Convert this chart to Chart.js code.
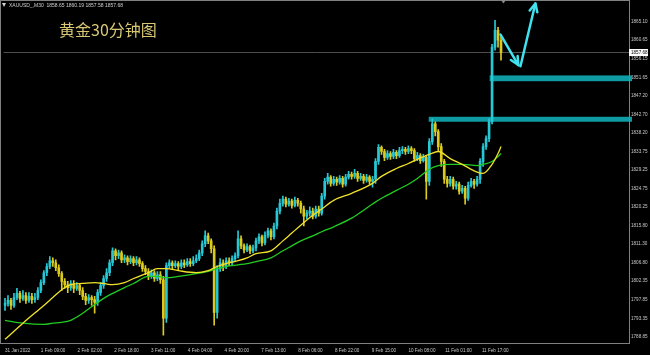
<!DOCTYPE html>
<html>
<head>
<meta charset="utf-8">
<script src="https://cdn.jsdelivr.net/npm/chart.js@4.4.1/dist/chart.umd.min.js"></script>
<style>
  html, body { margin: 0; padding: 0; background: #000; }
</style>
</head>
<body>
<canvas id="chart" width="650" height="355"></canvas>
<script>
// XAUUSD 30 min candles (one candle ~ every 3px)
const opens = [
  1796.5, 1797.0, 1797.7, 1796.5, 1798.4, 1799.4, 1798.2, 1798.9, 1797.7, 1798.7,
  1797.9, 1798.4, 1800.1, 1802.0, 1804.4, 1805.9, 1807.3, 1806.8, 1805.6, 1804.2,
  1802.3, 1801.5, 1800.8, 1801.8, 1800.6, 1801.3, 1800.1, 1798.7, 1797.7, 1798.4,
  1797.9, 1797.2, 1799.6, 1801.3, 1803.0, 1804.4, 1806.8, 1809.7, 1808.5, 1809.2,
  1807.5, 1808.0, 1807.1, 1807.8, 1806.8, 1807.5, 1806.6, 1805.4, 1804.7, 1803.7,
  1804.4, 1803.0, 1803.9, 1802.7, 1793.4, 1806.1, 1806.8, 1806.1, 1806.6, 1805.9,
  1806.8, 1806.3, 1807.1, 1806.6, 1807.3, 1807.8, 1809.2, 1811.4, 1813.3, 1812.1,
  1810.2, 1794.8, 1805.4, 1806.8, 1805.9, 1807.3, 1806.8, 1807.8, 1808.5, 1812.6,
  1810.9, 1809.9, 1810.7, 1809.7, 1810.4, 1812.1, 1813.1, 1811.6, 1813.5, 1814.5,
  1813.1, 1815.7, 1819.3, 1821.2, 1822.2, 1821.0, 1821.7, 1820.7, 1821.9, 1821.2,
  1819.8, 1818.1, 1818.8, 1819.3, 1818.1, 1819.8, 1818.8, 1822.9, 1826.5, 1827.5,
  1826.0, 1827.0, 1826.3, 1827.2, 1825.8, 1827.5, 1828.2, 1827.7, 1828.4, 1827.2,
  1827.7, 1826.7, 1827.5, 1826.5, 1827.0, 1831.3, 1834.7, 1833.7, 1832.3, 1833.2,
  1832.5, 1833.5, 1832.7, 1833.9, 1834.2, 1833.7, 1834.4, 1833.9, 1832.0, 1832.7,
  1831.5, 1832.3, 1826.5, 1836.1, 1840.4, 1838.5, 1834.9, 1831.3, 1827.0, 1826.0,
  1827.0, 1825.3, 1825.8, 1824.1, 1824.8, 1822.4, 1825.5, 1826.5, 1825.8, 1827.0,
  1831.3, 1834.9, 1836.8, 1840.9, 1858.9, 1863.0, 1860.6
]
const highs = [
  1798.2, 1798.9, 1798.2, 1799.4, 1800.6, 1799.9, 1800.1, 1799.6, 1799.6, 1799.4,
  1799.4, 1800.8, 1802.7, 1804.9, 1806.6, 1808.3, 1808.0, 1807.5, 1806.3, 1804.7,
  1803.0, 1802.3, 1802.5, 1802.5, 1802.0, 1801.8, 1800.8, 1799.4, 1799.1, 1798.9,
  1798.7, 1800.3, 1802.0, 1803.7, 1805.4, 1807.5, 1810.4, 1810.2, 1809.9, 1809.7,
  1808.7, 1808.5, 1808.5, 1808.3, 1808.3, 1808.0, 1807.1, 1806.1, 1805.4, 1805.1,
  1804.9, 1804.7, 1804.7, 1803.5, 1806.8, 1807.5, 1807.3, 1807.3, 1807.1, 1807.5,
  1807.5, 1807.8, 1807.8, 1808.3, 1808.7, 1809.9, 1812.1, 1814.5, 1814.0, 1812.6,
  1810.9, 1806.1, 1807.8, 1807.5, 1808.0, 1808.0, 1808.5, 1809.2, 1814.5, 1813.3,
  1811.4, 1811.4, 1811.1, 1811.1, 1812.8, 1813.8, 1813.5, 1814.3, 1815.2, 1815.0,
  1816.4, 1820.0, 1822.2, 1822.9, 1822.7, 1822.4, 1822.2, 1822.7, 1822.4, 1821.7,
  1820.5, 1819.5, 1820.3, 1820.0, 1820.5, 1820.5, 1823.6, 1827.2, 1828.4, 1827.9,
  1827.7, 1827.5, 1827.9, 1827.7, 1828.2, 1828.9, 1828.7, 1829.4, 1828.9, 1828.4,
  1828.2, 1828.2, 1827.9, 1827.7, 1832.0, 1835.4, 1835.1, 1834.2, 1833.9, 1833.7,
  1834.2, 1833.9, 1834.7, 1834.9, 1834.7, 1835.1, 1834.9, 1834.4, 1833.5, 1833.2,
  1833.0, 1832.7, 1836.8, 1841.6, 1840.9, 1839.0, 1835.6, 1831.8, 1827.7, 1827.7,
  1827.5, 1826.5, 1826.3, 1825.5, 1825.3, 1826.3, 1827.2, 1827.0, 1827.7, 1832.0,
  1835.6, 1837.5, 1841.6, 1859.6, 1865.4, 1863.7, 1861.8
]
const lows = [
  1795.3, 1796.3, 1795.5, 1796.0, 1797.9, 1797.2, 1797.7, 1797.0, 1797.2, 1797.0,
  1797.2, 1797.9, 1799.6, 1801.5, 1803.7, 1805.4, 1805.9, 1804.9, 1803.5, 1800.1,
  1800.6, 1799.6, 1800.1, 1799.6, 1800.1, 1799.1, 1797.9, 1796.7, 1797.0, 1796.5,
  1794.6, 1796.5, 1798.9, 1800.6, 1802.3, 1803.7, 1806.1, 1807.5, 1807.8, 1806.8,
  1806.8, 1806.3, 1806.6, 1806.1, 1806.3, 1805.9, 1804.7, 1803.9, 1802.7, 1803.0,
  1802.3, 1802.5, 1801.8, 1789.3, 1792.4, 1805.4, 1805.4, 1805.6, 1805.1, 1805.4,
  1805.6, 1805.9, 1805.9, 1806.1, 1806.8, 1807.3, 1808.5, 1810.7, 1811.4, 1809.2,
  1791.7, 1793.4, 1804.7, 1804.9, 1805.4, 1806.1, 1806.3, 1807.1, 1808.0, 1810.2,
  1809.2, 1809.5, 1809.0, 1809.2, 1809.7, 1811.4, 1810.9, 1811.1, 1812.8, 1812.3,
  1812.6, 1815.0, 1818.6, 1820.5, 1820.3, 1820.5, 1820.0, 1820.3, 1820.5, 1818.8,
  1815.7, 1817.4, 1818.1, 1817.4, 1817.6, 1818.1, 1818.3, 1822.2, 1825.8, 1825.3,
  1825.5, 1825.5, 1825.8, 1825.1, 1825.3, 1827.0, 1827.0, 1827.2, 1826.5, 1826.7,
  1826.0, 1826.3, 1825.8, 1825.1, 1826.0, 1830.6, 1833.0, 1831.5, 1831.8, 1831.8,
  1832.0, 1832.0, 1832.3, 1833.2, 1833.0, 1833.2, 1833.2, 1831.3, 1831.5, 1830.8,
  1831.1, 1822.2, 1825.5, 1835.4, 1837.5, 1833.7, 1830.1, 1826.0, 1825.1, 1825.3,
  1824.6, 1824.6, 1823.4, 1823.6, 1821.0, 1821.9, 1825.1, 1824.8, 1825.3, 1826.0,
  1830.1, 1834.2, 1836.1, 1840.4, 1858.2, 1858.9, 1855.8
]
const closes = [
  1797.0, 1797.7, 1796.5, 1798.4, 1799.4, 1798.2, 1798.9, 1797.7, 1798.7, 1797.9,
  1798.4, 1800.1, 1802.0, 1804.4, 1805.9, 1807.3, 1806.8, 1805.6, 1804.2, 1802.3,
  1801.5, 1800.8, 1801.8, 1800.6, 1801.3, 1800.1, 1798.7, 1797.7, 1798.4, 1797.9,
  1797.2, 1799.6, 1801.3, 1803.0, 1804.4, 1806.8, 1809.7, 1808.5, 1809.2, 1807.5,
  1808.0, 1807.1, 1807.8, 1806.8, 1807.5, 1806.6, 1805.4, 1804.7, 1803.7, 1804.4,
  1803.0, 1803.9, 1802.7, 1793.4, 1806.1, 1806.8, 1806.1, 1806.6, 1805.9, 1806.8,
  1806.3, 1807.1, 1806.6, 1807.3, 1807.8, 1809.2, 1811.4, 1813.3, 1812.1, 1810.2,
  1794.8, 1805.4, 1806.8, 1805.9, 1807.3, 1806.8, 1807.8, 1808.5, 1812.6, 1810.9,
  1809.9, 1810.7, 1809.7, 1810.4, 1812.1, 1813.1, 1811.6, 1813.5, 1814.5, 1813.1,
  1815.7, 1819.3, 1821.2, 1822.2, 1821.0, 1821.7, 1820.7, 1821.9, 1821.2, 1819.8,
  1818.1, 1818.8, 1819.3, 1818.1, 1819.8, 1818.8, 1822.9, 1826.5, 1827.5, 1826.0,
  1827.0, 1826.3, 1827.2, 1825.8, 1827.5, 1828.2, 1827.7, 1828.4, 1827.2, 1827.7,
  1826.7, 1827.5, 1826.5, 1827.0, 1831.3, 1834.7, 1833.7, 1832.3, 1833.2, 1832.5,
  1833.5, 1832.7, 1833.9, 1834.2, 1833.7, 1834.4, 1833.9, 1832.0, 1832.7, 1831.5,
  1832.3, 1826.5, 1836.1, 1840.4, 1838.5, 1834.9, 1831.3, 1827.0, 1826.0, 1827.0,
  1825.3, 1825.8, 1824.1, 1824.8, 1822.4, 1825.5, 1826.5, 1825.8, 1827.0, 1831.3,
  1834.9, 1836.8, 1840.9, 1858.9, 1863.0, 1860.6, 1857.68
]

// moving averages, sampled at these candle positions
const maIndex = [0, 6, 13, 16, 19, 22, 26, 30, 33, 36, 40, 43, 48, 51, 54, 58, 64, 68, 71, 74,
  78, 81, 84, 89, 93, 96, 99, 103, 106, 110, 116, 123, 126, 131, 135, 138, 142, 145, 149, 153,
  158, 160, 163, 165, 166]
const maFast = [1788.3, 1792.2, 1796.5, 1798.4, 1800.3, 1801.5, 1801.8, 1802.0, 1801.8, 1801.5,
  1802.0, 1803.0, 1804.4, 1805.4, 1805.4, 1804.9, 1804.4, 1804.9, 1805.9, 1806.6,
  1807.3, 1808.0, 1809.0, 1809.7, 1812.1, 1814.0, 1815.9, 1818.3, 1819.8, 1821.9,
  1823.6, 1826.0, 1827.7, 1829.6, 1830.8, 1831.8, 1833.0, 1833.7, 1832.0, 1830.6,
  1828.7, 1828.4, 1830.6, 1833.2, 1834.9]
const maSlow = [1792.9, 1792.2, 1791.9, 1792.2, 1792.4, 1792.9, 1794.6, 1796.7, 1798.2, 1799.4,
  1800.8, 1801.8, 1803.5, 1803.5, 1803.2, 1803.5, 1804.2, 1804.7, 1805.4, 1805.9,
  1806.3, 1806.6, 1807.1, 1808.0, 1809.7, 1810.9, 1812.1, 1813.3, 1814.3, 1815.5,
  1817.6, 1821.0, 1822.4, 1824.3, 1825.8, 1827.2, 1829.4, 1830.3, 1830.6, 1830.6,
  1830.3, 1830.6, 1831.3, 1832.5, 1833.2]

const xTickIndex = [0, 12, 24.3, 36.6, 48.9, 61.2, 73.5, 85.8, 98.1, 110.4, 122.7, 135, 147.3, 159.6]
const xTickLabels = ['31 Jan 2022', '1 Feb 09:00', '2 Feb 02:00', '2 Feb 18:00', '3 Feb 11:00',
  '4 Feb 04:00', '4 Feb 20:00', '7 Feb 13:00', '8 Feb 06:00', '8 Feb 22:00', '9 Feb 15:00',
  '10 Feb 08:00', '11 Feb 01:00', '11 Feb 17:00']
const yTickValues = [1865.10, 1860.65, 1856.15, 1851.65, 1847.20, 1842.70, 1838.20, 1833.75, 1829.25,
  1824.75, 1820.25, 1815.80, 1811.30, 1806.80, 1802.35, 1797.85, 1793.35, 1788.85]

const symbolInfo = 'XAUUSD_,M30  1858.65 1860.19 1857.58 1857.68'
const chartTitle = '黄金30分钟图'

// support zones: [start candle, upper price, lower price]
const zones = [[141.8, 1842.1, 1840.9], [162.2, 1852.1, 1850.7]]
// drawn arrows: [[candle, price], [candle, price]]
const arrows = [
  [[165.8, 1862.0], [171.8, 1854.6]],
  [[172.5, 1854.3], [177.5, 1869.5]],
]

const BULL = '#27c8d6'
const BEAR = '#dccb1e'
const AXIS_FONT = '"Liberation Sans", Arial, sans-serif'

const candleColors = closes.map((c, i) => (c >= opens[i] ? BULL : BEAR))
const idx = closes.map((_, i) => i)

const overlay = {
  id: 'overlay',
  beforeDatasetsDraw(chart) {
    const { ctx, chartArea: a, scales: { x, y } } = chart
    ctx.save()
    const by = Math.round(y.getPixelForValue(closes[closes.length - 1])) + 0.5
    ctx.strokeStyle = '#4d4d4d'
    ctx.lineWidth = 1
    ctx.beginPath()
    ctx.moveTo(a.left, by)
    ctx.lineTo(a.right, by)
    ctx.stroke()

    ctx.fillStyle = '#0e9ba3'
    zones.forEach(([from, top, bottom]) => {
      const x0 = x.getPixelForValue(from)
      const y0 = y.getPixelForValue(top)
      const y1 = y.getPixelForValue(bottom)
      ctx.fillRect(x0, y0, a.right + 3 - x0, y1 - y0)
    })
    ctx.restore()
  },
  afterDatasetsDraw(chart) {
    const { ctx, scales: { x, y } } = chart
    ctx.save()
    ctx.strokeStyle = '#40e2ee'
    ctx.lineWidth = 2.5
    ctx.lineCap = 'round'
    ctx.lineJoin = 'round'
    arrows.forEach(([[x1, y1], [x2, y2]]) => {
      const px1 = x.getPixelForValue(x1), py1 = y.getPixelForValue(y1)
      const px2 = x.getPixelForValue(x2), py2 = y.getPixelForValue(y2)
      ctx.beginPath()
      ctx.moveTo(px1, py1)
      ctx.lineTo(px2, py2)
      ctx.stroke()
      const ang = Math.atan2(py2 - py1, px2 - px1)
      const h = 9
      ctx.beginPath()
      ctx.moveTo(px2 - h * Math.cos(ang - 0.45), py2 - h * Math.sin(ang - 0.45))
      ctx.lineTo(px2, py2)
      ctx.lineTo(px2 - h * Math.cos(ang + 0.45), py2 - h * Math.sin(ang + 0.45))
      ctx.stroke()
    })
    ctx.restore()
  },
  afterDraw(chart) {
    const { ctx, chartArea: a, scales: { x, y } } = chart
    ctx.save()
    // frame
    ctx.strokeStyle = '#808080'
    ctx.lineWidth = 1
    ctx.strokeRect(0.5, 0.5, a.right, a.bottom)

    // chart shift marker
    const sx = x.getPixelForValue(166.8)
    ctx.fillStyle = '#8a8a8a'
    ctx.beginPath()
    ctx.moveTo(sx - 2.5, 0)
    ctx.lineTo(sx + 2.5, 0)
    ctx.lineTo(sx, 3.5)
    ctx.fill()

    // header
    ctx.fillStyle = '#cfcfcf'
    ctx.beginPath()
    ctx.moveTo(2, 3)
    ctx.lineTo(6, 3)
    ctx.lineTo(4, 7)
    ctx.fill()
    ctx.font = '5px ' + AXIS_FONT
    ctx.textBaseline = 'middle'
    ctx.textAlign = 'left'
    ctx.fillText(symbolInfo, 9, 5.5)

    ctx.fillStyle = '#d8c774'
    ctx.font = '16px "Noto Sans CJK SC", sans-serif'
    ctx.fillText(chartTitle, 59, 30)

    // current price tag
    const last = closes[closes.length - 1]
    const py = y.getPixelForValue(last)
    ctx.fillStyle = '#ffffff'
    ctx.fillRect(a.right, Math.round(py) - 3, 19, 7)
    ctx.fillStyle = '#000000'
    ctx.font = '4.6px ' + AXIS_FONT
    ctx.fillText(last.toFixed(2), a.right + 2, Math.round(py) + 0.5)
    ctx.restore()
  },
}

new Chart(document.getElementById('chart'), {
  type: 'bar',
  data: {
    datasets: [
      {
        type: 'line',
        data: maIndex.map((v, i) => ({ x: v, y: maFast[i] })),
        borderColor: '#f1e22a',
        borderWidth: 1.3,
        pointRadius: 0,
        cubicInterpolationMode: 'monotone',
        order: 0,
      },
      {
        type: 'line',
        data: maIndex.map((v, i) => ({ x: v, y: maSlow[i] })),
        borderColor: '#20cc20',
        borderWidth: 1.3,
        pointRadius: 0,
        cubicInterpolationMode: 'monotone',
        order: 0,
      },
      {
        data: idx.map((i) => ({ x: i, y: [lows[i], highs[i]] })),
        backgroundColor: candleColors,
        barThickness: 1,
        grouped: false,
        order: 2,
      },
      {
        data: idx.map((i) => ({ x: i, y: [opens[i], closes[i]] })),
        backgroundColor: candleColors,
        barThickness: 2,
        minBarLength: 1,
        grouped: false,
        order: 1,
      },
    ],
  },
  options: {
    responsive: false,
    devicePixelRatio: 1,
    animation: false,
    layout: { padding: { left: 1, top: 2, right: 0, bottom: 0 } },
    plugins: { legend: { display: false }, tooltip: { enabled: false } },
    scales: {
      x: {
        type: 'linear',
        offset: false,
        min: -0.5,
        max: 208.8333,
        grid: { display: false, drawTicks: false },
        border: { display: false },
        afterBuildTicks: (s) => { s.ticks = xTickIndex.map((v) => ({ value: v })) },
        afterFit: (s) => { s.height = 12 },
        ticks: {
          autoSkip: false,
          maxRotation: 0,
          align: 'start',
          padding: 5,
          color: '#c8c8c8',
          font: { size: 4.6, family: AXIS_FONT },
          callback: (v, i) => xTickLabels[i],
        },
      },
      y: {
        position: 'right',
        min: 1787.41,
        max: 1869.18,
        grid: { display: false, drawTicks: false },
        border: { display: false },
        afterBuildTicks: (s) => { s.ticks = yTickValues.map((v) => ({ value: v })) },
        afterFit: (s) => { s.width = 21 },
        ticks: {
          autoSkip: false,
          padding: 2,
          color: '#c8c8c8',
          font: { size: 4.6, family: AXIS_FONT },
          callback: (v) => v.toFixed(2),
        },
      },
    },
  },
  plugins: [overlay],
})
</script>
</body>
</html>
